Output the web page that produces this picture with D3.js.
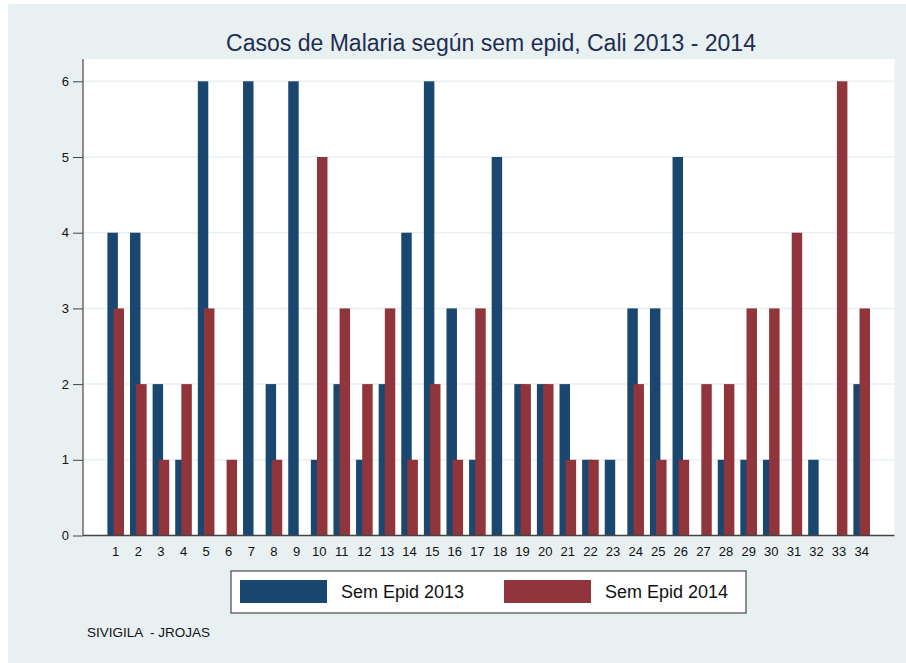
<!DOCTYPE html>
<html>
<head>
<meta charset="utf-8">
<script src="https://cdn.jsdelivr.net/npm/d3@7"></script>
<style>
  body { margin: 0; background: #fff; }
  text { font-family: "Liberation Sans", Arial, sans-serif; }
</style>
</head>
<body>
<script>
  // data
  var weeks = d3.range(1, 35);
  var cases2013 = [4,4,2,1,6,0,6,2,6,1,2,1,2,4,6,3,1,5,2,2,2,1,1,3,3,5,0,1,1,1,0,1,0,2];
  var cases2014 = [3,2,1,2,3,1,0,1,0,5,3,2,3,1,2,1,3,0,2,2,1,1,0,2,1,1,2,2,3,3,4,0,6,3];
  var yTicks = [0,1,2,3,4,5,6];
  var seriesNames = ["Sem Epid 2013", "Sem Epid 2014"];

  var width = 906, height = 663;
  var plot = {left: 83, right: 894.5, top: 59, bottom: 535.5};
  var blue = "#1a476f", red = "#90353b", bg = "#e8f0f2";

  var svg = d3.select("body").append("svg")
      .attr("width", width)
      .attr("height", height);

  svg.append("rect")
      .attr("x", 8).attr("y", 4)
      .attr("width", width - 8).attr("height", height - 4)
      .attr("fill", bg);

  svg.append("rect")
      .attr("x", plot.left).attr("y", plot.top)
      .attr("width", plot.right - plot.left).attr("height", plot.bottom - plot.top)
      .attr("fill", "#fff");

  var x = d3.scaleBand()
      .domain(weeks)
      .range([104.4, 873])
      .paddingInner(0.265)
      .paddingOuter(0.1325);

  var y = d3.scaleLinear()
      .domain([0, 6])
      .range([plot.bottom, 81.3]);

  // gridlines
  svg.append("g").selectAll("line")
      .data(yTicks.slice(1))
      .enter().append("line")
      .attr("x1", plot.left).attr("x2", plot.right)
      .attr("y1", function(d) { return y(d); })
      .attr("y2", function(d) { return y(d); })
      .attr("stroke", "#e8f0f2")
      .attr("stroke-width", 1.5);

  var bw = x.bandwidth() * 0.63;

  svg.append("g").selectAll("rect")
      .data(weeks)
      .enter().append("rect")
      .attr("x", function(d) { return x(d); })
      .attr("y", function(d, i) { return y(cases2013[i]); })
      .attr("width", bw)
      .attr("height", function(d, i) { return y(0) - y(cases2013[i]); })
      .attr("fill", blue);

  svg.append("g").selectAll("rect")
      .data(weeks)
      .enter().append("rect")
      .attr("x", function(d) { return x(d) + x.bandwidth() - bw; })
      .attr("y", function(d, i) { return y(cases2014[i]); })
      .attr("width", bw)
      .attr("height", function(d, i) { return y(0) - y(cases2014[i]); })
      .attr("fill", red);

  // y axis
  var yAxis = svg.append("g")
      .attr("transform", "translate(" + plot.left + ",0)")
      .call(d3.axisLeft(y).tickValues(yTicks).tickFormat(d3.format("d")).tickSize(10).tickPadding(4));
  yAxis.select(".domain").remove();
  yAxis.selectAll(".tick line").attr("stroke", "#444");
  yAxis.selectAll(".tick text").attr("font-size", 13).attr("fill", "#111");
  svg.append("line")
      .attr("x1", plot.left).attr("x2", plot.left)
      .attr("y1", plot.top).attr("y2", plot.bottom)
      .attr("stroke", "#555").attr("stroke-width", 1.3);
  svg.append("line")
      .attr("x1", plot.left).attr("x2", plot.right)
      .attr("y1", plot.bottom).attr("y2", plot.bottom)
      .attr("stroke", "#444").attr("stroke-width", 1.3);

  // x axis labels
  var xAxis = svg.append("g")
      .attr("transform", "translate(0," + plot.bottom + ")")
      .call(d3.axisBottom(x).tickSize(0).tickPadding(11));
  xAxis.select(".domain").remove();
  xAxis.selectAll(".tick text").attr("font-size", 13).attr("fill", "#111");

  // title
  svg.append("text")
      .attr("x", 491).attr("y", 51)
      .attr("text-anchor", "middle")
      .attr("font-size", 23)
      .attr("textLength", 530)
      .attr("lengthAdjust", "spacingAndGlyphs")
      .attr("fill", "#1e2e4e")
      .text("Casos de Malaria según sem epid, Cali 2013 - 2014");

  // legend
  var legend = svg.append("g");
  legend.append("rect")
      .attr("x", 231).attr("y", 571)
      .attr("width", 515).attr("height", 42)
      .attr("fill", "#fff").attr("stroke", "#555").attr("stroke-width", 1.3);
  var items = legend.selectAll("g.item")
      .data(seriesNames)
      .enter().append("g")
      .attr("transform", function(d, i) { return "translate(" + (240 + i * 264) + ",580)"; });
  items.append("rect")
      .attr("width", 87).attr("height", 23)
      .attr("fill", function(d, i) { return i === 0 ? blue : red; });
  items.append("text")
      .attr("x", 101).attr("y", 18)
      .attr("font-size", 18)
      .attr("fill", "#111")
      .text(function(d) { return d; });

  svg.append("text")
      .attr("x", 87).attr("y", 637)
      .attr("font-size", 13.5)
      .attr("fill", "#111")
      .attr("xml:space", "preserve")
      .style("white-space", "pre")
      .text("SIVIGILA  - JROJAS");
</script>
</body>
</html>
